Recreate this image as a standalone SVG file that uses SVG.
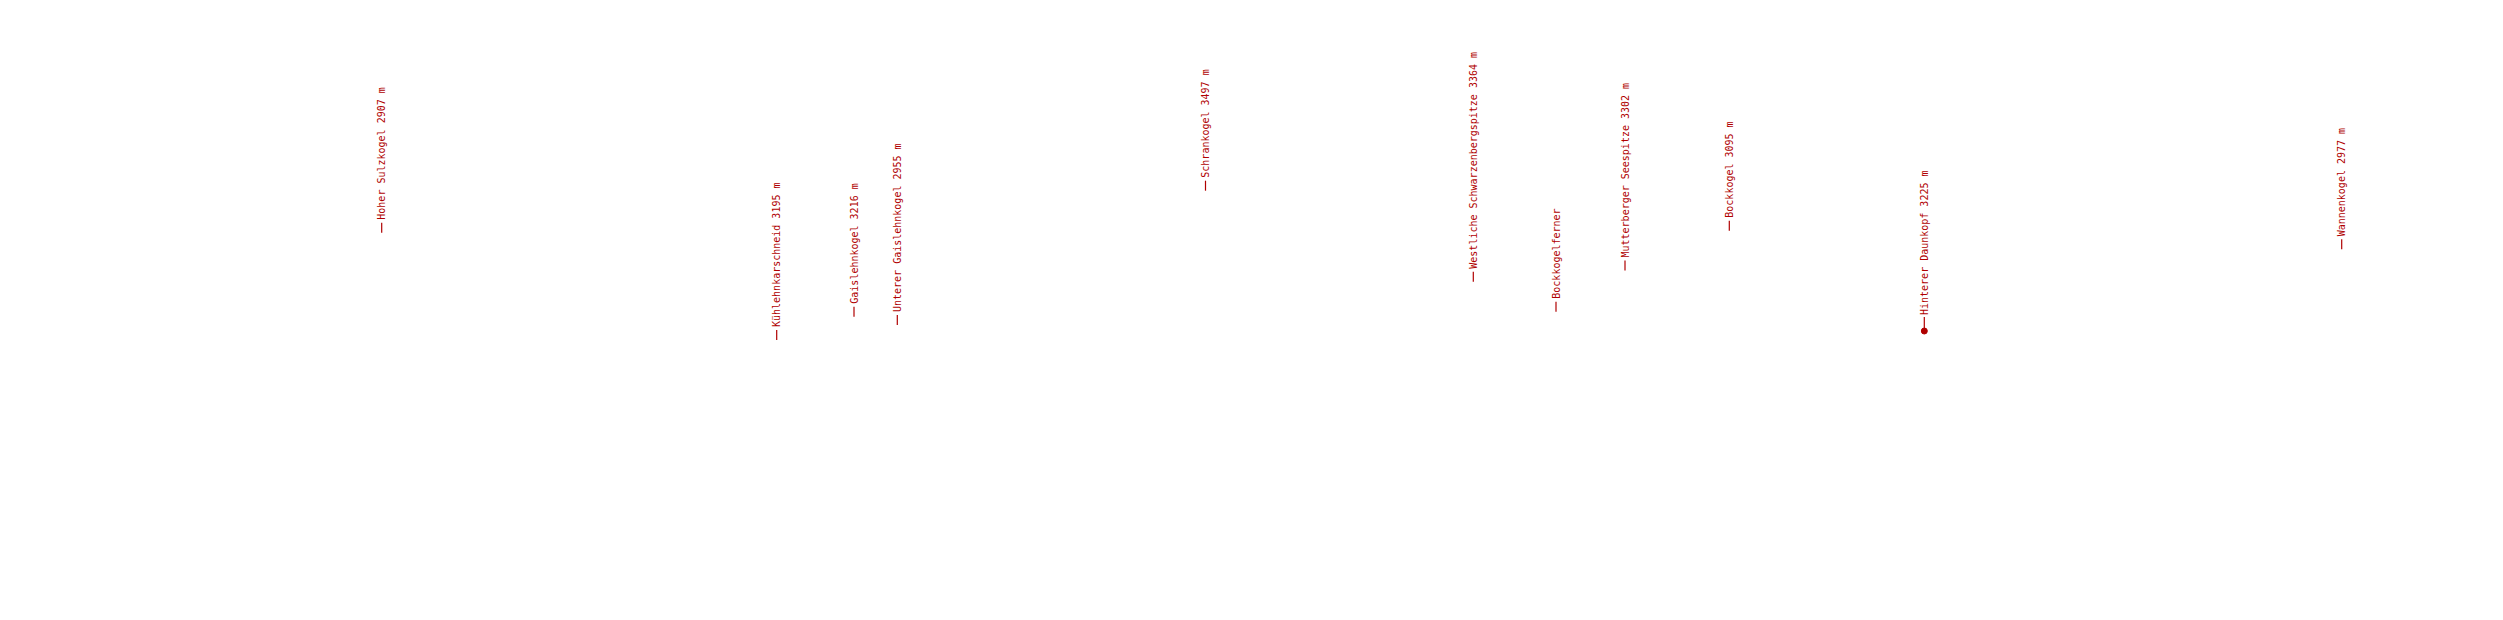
<svg xmlns="http://www.w3.org/2000/svg" width="2503" height="620" viewBox="0 0 2503 620">
<style>
.tick{stroke:#b00000;stroke-width:1.2;fill:none}
.lbl{font-family:"DejaVu Sans Mono","Liberation Mono",monospace;font-size:10px;fill:#b00000}
.dot{fill:#b00000;stroke:#b00000;stroke-width:1}
</style>
<rect width="2503" height="620" fill="#ffffff"/>
<g id="connectors">
<line class="tick" x1="381.7" y1="232.7" x2="381.7" y2="222.7"/>
<line class="tick" x1="776.7" y1="340" x2="776.7" y2="330"/>
<line class="tick" x1="854" y1="316.7" x2="854" y2="306.7"/>
<line class="tick" x1="897.3" y1="325" x2="897.3" y2="315"/>
<line class="tick" x1="1205.5" y1="190.7" x2="1205.5" y2="180.7"/>
<line class="tick" x1="1473.3" y1="281.7" x2="1473.3" y2="271.7"/>
<line class="tick" x1="1556" y1="311.7" x2="1556" y2="301.7"/>
<line class="tick" x1="1625" y1="270.5" x2="1625" y2="260.5"/>
<line class="tick" x1="1729.3" y1="230.7" x2="1729.3" y2="220.7"/>
<line class="tick" x1="1924.3" y1="331" x2="1924.3" y2="317"/>
<line class="tick" x1="2341.7" y1="249.3" x2="2341.7" y2="239.3"/>
</g>
<g id="n1" transform="translate(381.7,232.7)"><text class="lbl" transform="rotate(-90)" x="13" dy="0.35em">Hoher Sulzkogel 2907 m</text></g>
<g id="n2" transform="translate(776.7,340)"><text class="lbl" transform="rotate(-90)" x="13" dy="0.35em">Kühlehnkarschneid 3195 m</text></g>
<g id="n3" transform="translate(854,316.7)"><text class="lbl" transform="rotate(-90)" x="13" dy="0.35em">Gaislehnkogel 3216 m</text></g>
<g id="n4" transform="translate(897.3,325)"><text class="lbl" transform="rotate(-90)" x="13" dy="0.35em">Unterer Gaislehnkogel 2955 m</text></g>
<g id="n5" transform="translate(1205.5,190.7)"><text class="lbl" transform="rotate(-90)" x="13" dy="0.35em">Schrankogel 3497 m</text></g>
<g id="n6" transform="translate(1473.3,281.7)"><text class="lbl" transform="rotate(-90)" x="13" dy="0.35em">Westliche Schwarzenbergspitze 3364 m</text></g>
<g id="n7" transform="translate(1556,311.7)"><text class="lbl" transform="rotate(-90)" x="13" dy="0.35em">Bockkogelferner</text></g>
<g id="n8" transform="translate(1625,270.5)"><text class="lbl" transform="rotate(-90)" x="13" dy="0.35em">Mutterberger Seespitze 3302 m</text></g>
<g id="n9" transform="translate(1729.3,230.7)"><text class="lbl" transform="rotate(-90)" x="13" dy="0.35em">Bockkogel 3095 m</text></g>
<g id="n10" transform="translate(1924.3,331)"><circle class="dot" r="3"/><text class="lbl" transform="rotate(-90)" x="16" dy="0.35em">Hinterer Daunkopf 3225 m</text></g>
<g id="n11" transform="translate(2341.7,249.3)"><text class="lbl" transform="rotate(-90)" x="13" dy="0.35em">Wannenkogel 2977 m</text></g>
</svg>
